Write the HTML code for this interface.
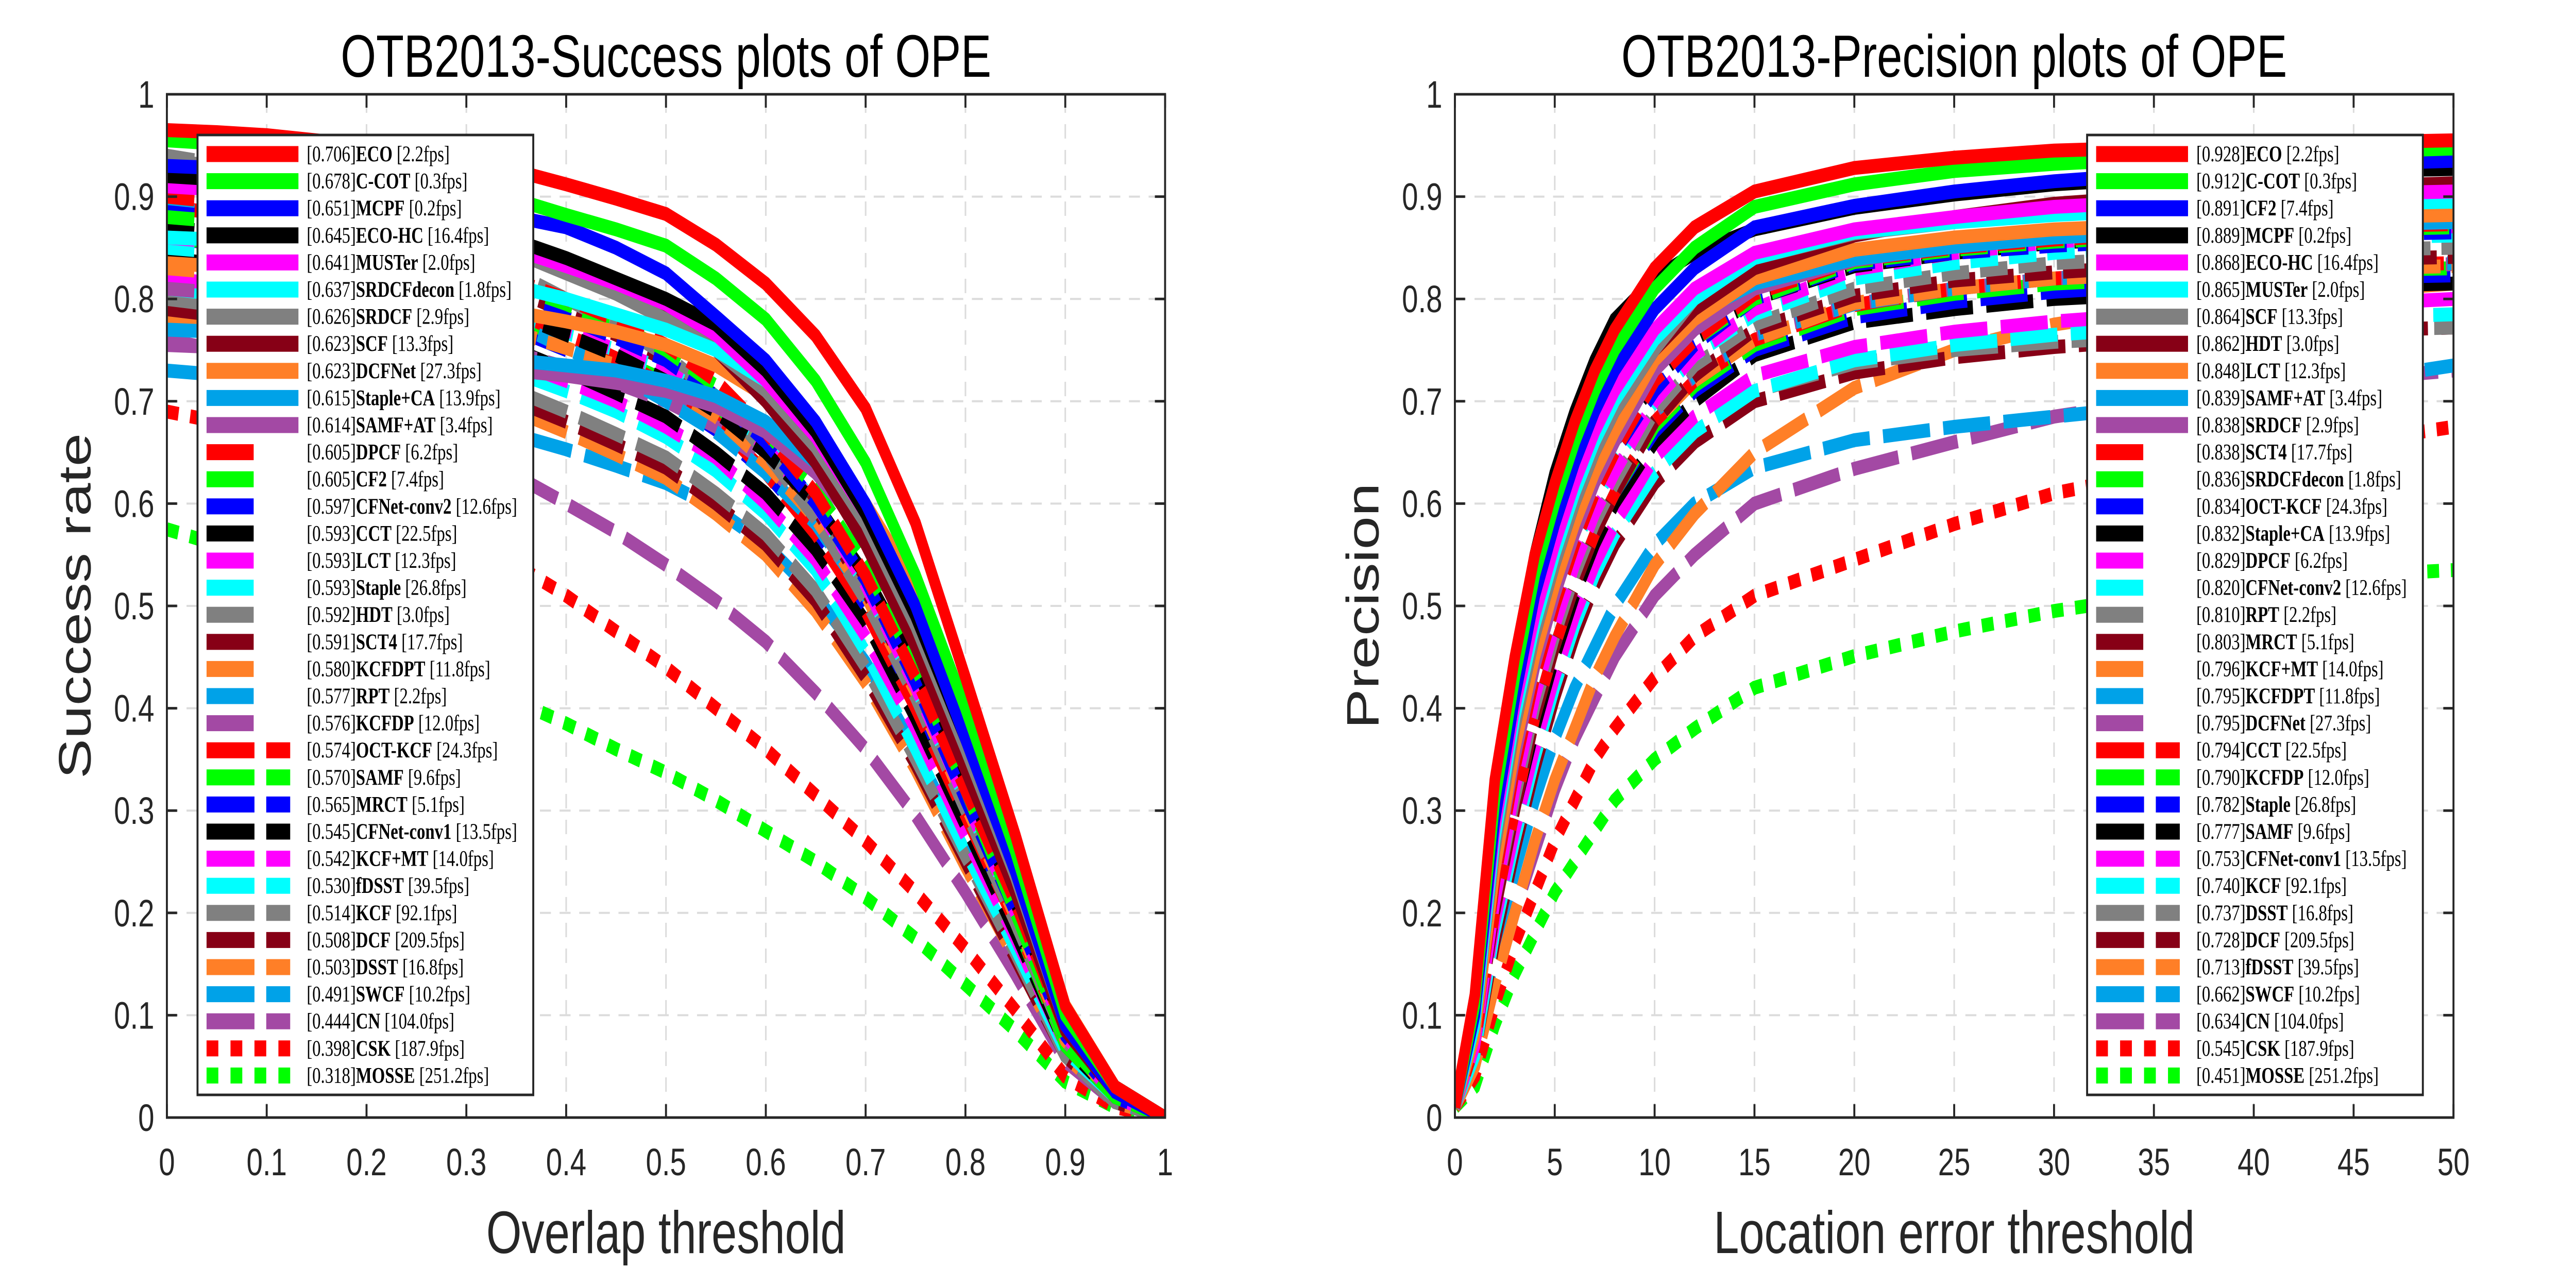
<!DOCTYPE html>
<html><head><meta charset="utf-8"><style>
html,body{margin:0;padding:0;background:#fff;overflow:hidden;width:100%;height:100%;}
svg{display:block;position:fixed;left:0;top:0;width:100vw;height:100vh;}
</style></head><body>
<svg id="chart" xmlns="http://www.w3.org/2000/svg" viewBox="0 0 6560 2461" preserveAspectRatio="none">
<rect x="0" y="0" width="6560" height="2461" fill="#fff"/>
<g id="left"></g><g id="right"></g>
</svg>
<script>
// ---------- data ----------
const successThresholds = [0,0.05,0.1,0.15,0.2,0.25,0.3,0.35,0.4,0.45,0.5,0.55,0.6,0.65,0.7,0.75,0.8,0.85,0.9,0.95,1];
const successXTicks = [0,0.1,0.2,0.3,0.4,0.5,0.6,0.7,0.8,0.9,1];
const successXTickLabels = ["0","0.1","0.2","0.3","0.4","0.5","0.6","0.7","0.8","0.9","1"];
const yTicks = [0,0.1,0.2,0.3,0.4,0.5,0.6,0.7,0.8,0.9,1];
const yTickLabels = ["0","0.1","0.2","0.3","0.4","0.5","0.6","0.7","0.8","0.9","1"];
const successNames = ["ECO","C-COT","MCPF","ECO-HC","MUSTer","SRDCFdecon","SRDCF","SCF","DCFNet","Staple+CA","SAMF+AT","DPCF","CF2","CFNet-conv2","CCT","LCT","Staple","HDT","SCT4","KCFDPT","RPT","KCFDP","OCT-KCF","SAMF","MRCT","CFNet-conv1","KCF+MT","fDSST","KCF","DCF","DSST","SWCF","CN","CSK","MOSSE"];
const successScores = ["0.706","0.678","0.651","0.645","0.641","0.637","0.626","0.623","0.623","0.615","0.614","0.605","0.605","0.597","0.593","0.593","0.593","0.592","0.591","0.580","0.577","0.576","0.574","0.570","0.565","0.545","0.542","0.530","0.514","0.508","0.503","0.491","0.444","0.398","0.318"];
const successFps = ["2.2","0.3","0.2","16.4","2.0","1.8","2.9","13.3","27.3","13.9","3.4","6.2","7.4","12.6","22.5","12.3","26.8","3.0","17.7","11.8","2.2","12.0","24.3","9.6","5.1","13.5","14.0","39.5","92.1","209.5","16.8","10.2","104.0","187.9","251.2"];
const successCurves = [
[.965,.963,.960,.955,.950,.942,.934,.925,.912,.898,.883,.853,.815,.764,.693,.581,.430,.276,.109,.030,0],
[.955,.952,.948,.942,.935,.925,.912,.897,.882,.868,.852,.82,.78,.72,.64,.53,.40,.26,.10,.03,0],
[.93,.928,.925,.92,.912,.90,.89,.88,.87,.85,.825,.783,.74,.68,.60,.50,.37,.24,.09,.025,0],
[.92,.917,.912,.905,.897,.885,.872,.857,.84,.82,.80,.775,.73,.67,.59,.49,.37,.25,.105,.03,0],
[.91,.907,.902,.895,.887,.875,.862,.848,.832,.815,.795,.765,.72,.665,.59,.49,.37,.245,.10,.03,0],
[.86,.858,.855,.85,.843,.835,.825,.812,.80,.785,.77,.75,.72,.67,.60,.50,.38,.25,.10,.03,0],
[.935,.93,.922,.91,.898,.88,.862,.845,.825,.805,.78,.75,.71,.655,.58,.48,.36,.235,.09,.025,0],
[.92,.915,.908,.898,.887,.873,.858,.845,.832,.815,.79,.75,.70,.64,.56,.46,.34,.22,.085,.025,0],
[.835,.832,.828,.822,.815,.807,.797,.787,.778,.768,.755,.735,.705,.665,.60,.52,.40,.27,.11,.03,0],
[.77,.768,.765,.76,.755,.75,.745,.74,.735,.73,.72,.705,.68,.64,.58,.49,.38,.25,.10,.03,0],
[.755,.753,.75,.747,.744,.74,.735,.73,.725,.718,.71,.695,.67,.63,.57,.48,.37,.245,.095,.028,0],
[.90,.895,.887,.877,.865,.85,.835,.818,.80,.78,.755,.72,.67,.61,.53,.43,.32,.21,.085,.025,0],
[.88,.876,.87,.862,.852,.84,.826,.812,.795,.775,.75,.715,.67,.615,.54,.44,.32,.20,.075,.02,0],
[.885,.88,.872,.86,.848,.833,.818,.80,.782,.762,.74,.705,.66,.60,.525,.425,.31,.2,.08,.02,0],
[.87,.865,.857,.845,.832,.818,.802,.785,.765,.745,.72,.69,.65,.60,.53,.44,.33,.21,.085,.025,0],
[.86,.856,.85,.84,.83,.818,.803,.787,.77,.75,.73,.70,.655,.60,.52,.42,.31,.2,.08,.02,0],
[.85,.846,.84,.832,.822,.81,.797,.782,.767,.75,.73,.70,.66,.60,.52,.42,.31,.2,.085,.025,0],
[.94,.932,.92,.905,.888,.868,.847,.825,.80,.775,.745,.705,.65,.585,.505,.41,.30,.19,.075,.02,0],
[.92,.913,.9,.885,.868,.848,.828,.808,.787,.765,.74,.705,.655,.595,.515,.42,.31,.2,.08,.02,0],
[.83,.826,.82,.812,.803,.792,.78,.767,.752,.735,.715,.685,.64,.585,.51,.415,.305,.195,.075,.02,0],
[.89,.882,.87,.855,.838,.818,.797,.775,.752,.728,.70,.67,.63,.58,.51,.42,.31,.20,.08,.02,0],
[.81,.806,.8,.792,.783,.772,.76,.747,.733,.718,.70,.675,.64,.59,.52,.425,.31,.2,.08,.02,0],
[.89,.884,.874,.86,.845,.827,.807,.787,.765,.742,.715,.68,.63,.57,.495,.40,.295,.19,.075,.02,0],
[.86,.855,.848,.838,.826,.812,.797,.78,.762,.742,.72,.69,.65,.60,.53,.43,.31,.19,.07,.02,0],
[.86,.854,.845,.833,.82,.805,.788,.77,.75,.728,.705,.672,.63,.575,.50,.41,.30,.19,.075,.02,0],
[.84,.834,.825,.813,.80,.785,.768,.75,.73,.708,.685,.65,.61,.555,.485,.39,.285,.18,.07,.02,0],
[.82,.815,.807,.797,.785,.771,.755,.738,.72,.70,.675,.645,.60,.545,.47,.38,.275,.175,.07,.02,0],
[.81,.805,.797,.787,.775,.761,.745,.728,.71,.69,.665,.632,.59,.535,.455,.36,.26,.165,.065,.02,0],
[.80,.794,.785,.773,.76,.745,.728,.71,.69,.668,.645,.61,.57,.515,.44,.35,.255,.16,.06,.015,0],
[.79,.784,.775,.763,.75,.735,.718,.70,.68,.658,.635,.60,.56,.505,.43,.345,.25,.155,.06,.015,0],
[.78,.774,.765,.753,.74,.725,.708,.69,.67,.648,.625,.59,.55,.495,.425,.34,.245,.155,.06,.015,0],
[.73,.726,.72,.712,.703,.692,.68,.667,.653,.637,.62,.595,.56,.51,.445,.36,.26,.165,.065,.015,0],
[.76,.75,.737,.72,.70,.678,.653,.627,.60,.572,.54,.505,.465,.415,.36,.295,.22,.14,.055,.015,0],
[.69,.68,.665,.645,.622,.597,.57,.54,.51,.475,.44,.40,.36,.315,.27,.22,.165,.105,.04,.01,0],
[.575,.56,.54,.515,.49,.462,.435,.407,.385,.36,.337,.31,.28,.25,.215,.175,.13,.085,.035,.01,0]
];
const precisionThresholds = [0,1,2,3,4,5,6,7,8,10,12,15,20,25,30,35,40,45,50];
const precisionXTicks = [0,5,10,15,20,25,30,35,40,45,50];
const precisionXTickLabels = ["0","5","10","15","20","25","30","35","40","45","50"];
const precisionNames = ["ECO","C-COT","CF2","MCPF","ECO-HC","MUSTer","SCF","HDT","LCT","SAMF+AT","SRDCF","SCT4","SRDCFdecon","OCT-KCF","Staple+CA","DPCF","CFNet-conv2","RPT","MRCT","KCF+MT","KCFDPT","DCFNet","CCT","KCFDP","Staple","SAMF","CFNet-conv1","KCF","DSST","DCF","fDSST","SWCF","CN","CSK","MOSSE"];
const precisionScores = ["0.928","0.912","0.891","0.889","0.868","0.865","0.864","0.862","0.848","0.839","0.838","0.838","0.836","0.834","0.832","0.829","0.820","0.810","0.803","0.796","0.795","0.795","0.794","0.790","0.782","0.777","0.753","0.740","0.737","0.728","0.713","0.662","0.634","0.545","0.451"];
const precisionFps = ["2.2","0.3","7.4","0.2","16.4","2.0","13.3","3.0","12.3","3.4","2.9","17.7","1.8","24.3","13.9","6.2","12.6","2.2","5.1","14.0","11.8","27.3","22.5","12.0","26.8","9.6","13.5","92.1","16.8","209.5","39.5","10.2","104.0","187.9","251.2"];
const precisionCurves = [
[.01,.12,.33,.45,.55,.62,.68,.73,.77,.83,.87,.905,.928,.938,.945,.948,.951,.953,.955],
[.01,.11,.31,.43,.53,.60,.66,.71,.75,.81,.85,.89,.912,.925,.932,.937,.941,.944,.947],
[.01,.10,.29,.41,.51,.58,.64,.69,.73,.79,.83,.87,.891,.905,.915,.922,.928,.932,.935],
[.01,.11,.31,.44,.55,.63,.69,.74,.78,.82,.845,.868,.889,.902,.912,.918,.922,.925,.927],
[.01,.10,.28,.40,.49,.56,.62,.67,.71,.77,.81,.845,.868,.88,.89,.895,.9,.903,.905],
[.01,.09,.27,.39,.48,.55,.61,.66,.70,.76,.80,.84,.865,.875,.882,.887,.89,.893,.895],
[.01,.09,.26,.38,.47,.54,.60,.65,.69,.75,.80,.84,.864,.875,.883,.888,.892,.894,.896],
[.01,.09,.26,.38,.47,.54,.60,.65,.69,.75,.79,.83,.862,.88,.893,.9,.905,.91,.913],
[.01,.08,.24,.36,.45,.52,.58,.63,.67,.74,.78,.82,.848,.86,.868,.872,.876,.88,.882],
[.01,.09,.26,.38,.47,.54,.60,.65,.69,.75,.785,.815,.839,.851,.86,.865,.87,.873,.875],
[.01,.08,.24,.35,.44,.51,.57,.62,.66,.73,.77,.81,.838,.852,.862,.868,.873,.876,.879],
[.01,.08,.23,.34,.43,.50,.56,.61,.65,.72,.76,.805,.838,.85,.858,.864,.868,.871,.873],
[.01,.08,.23,.34,.43,.50,.56,.61,.65,.72,.76,.80,.836,.848,.856,.861,.865,.868,.87],
[.01,.08,.23,.34,.43,.50,.56,.61,.65,.71,.755,.80,.834,.845,.852,.857,.86,.863,.865],
[.01,.08,.24,.35,.44,.51,.57,.62,.66,.72,.76,.80,.832,.845,.855,.86,.864,.867,.87],
[.01,.07,.21,.32,.41,.48,.54,.59,.63,.70,.745,.79,.829,.845,.856,.862,.866,.869,.871],
[.01,.08,.23,.34,.43,.50,.56,.60,.64,.70,.745,.785,.82,.835,.845,.852,.857,.86,.862],
[.01,.07,.21,.31,.40,.47,.53,.58,.62,.69,.735,.775,.81,.825,.835,.84,.845,.848,.85],
[.01,.07,.20,.30,.39,.46,.52,.57,.61,.68,.725,.77,.803,.818,.826,.832,.836,.839,.841],
[.01,.07,.20,.30,.39,.46,.52,.57,.61,.68,.72,.76,.796,.81,.82,.825,.828,.83,.832],
[.01,.07,.21,.31,.40,.47,.53,.58,.62,.69,.725,.765,.795,.81,.82,.826,.83,.833,.835],
[.01,.07,.21,.32,.41,.48,.54,.59,.63,.69,.725,.765,.795,.81,.82,.825,.83,.832,.834],
[.01,.07,.20,.30,.39,.46,.52,.57,.61,.68,.72,.76,.794,.81,.82,.826,.83,.833,.835],
[.01,.07,.20,.30,.39,.46,.52,.57,.61,.675,.715,.755,.79,.805,.815,.82,.825,.828,.83],
[.01,.07,.20,.30,.39,.46,.52,.57,.61,.67,.71,.75,.782,.797,.807,.813,.818,.821,.823],
[.01,.07,.20,.30,.38,.45,.51,.56,.60,.66,.70,.745,.777,.79,.8,.805,.81,.813,.815],
[.01,.07,.19,.28,.36,.43,.49,.54,.58,.645,.685,.725,.753,.768,.778,.785,.79,.795,.8],
[.01,.06,.18,.27,.35,.42,.48,.53,.57,.63,.67,.71,.74,.755,.765,.772,.778,.782,.785],
[.01,.06,.18,.27,.35,.42,.48,.53,.57,.63,.67,.71,.737,.75,.758,.763,.767,.77,.772],
[.01,.06,.17,.26,.34,.41,.47,.52,.56,.62,.66,.70,.728,.743,.753,.76,.765,.769,.772],
[.01,.05,.13,.20,.27,.33,.38,.43,.47,.54,.59,.65,.713,.75,.775,.79,.8,.808,.815],
[.01,.06,.16,.24,.31,.37,.42,.46,.50,.56,.60,.635,.662,.675,.685,.695,.705,.72,.735],
[.01,.05,.13,.20,.26,.32,.37,.41,.45,.51,.55,.60,.634,.66,.685,.7,.712,.722,.73],
[.01,.04,.11,.17,.22,.27,.31,.35,.38,.43,.47,.51,.545,.58,.61,.63,.645,.66,.675],
[.01,.03,.09,.14,.18,.22,.25,.28,.31,.35,.38,.42,.451,.475,.495,.51,.52,.53,.535]
];

// ---------- styling ----------
const COLORS = ["#ff0000","#00ff00","#0000ff","#000000","#ff00ff","#00ffff","#808080","#870016","#ff7f27","#00a2e8","#a349a4"];
const DASHES = ["", "70 28", "120 34", "30 30"];
const NS = "http://www.w3.org/2000/svg";
function mk(tag, attrs, parent){ const e=document.createElementNS(NS,tag); for(const k in attrs) e.setAttribute(k,attrs[k]); if(parent) parent.appendChild(e); return e; }

function drawPanel(g, cfg){
  const {x0,x1,y0,y1,xmin,xmax,prefix} = cfg;
  const sx = v => x0 + (v-xmin)/(xmax-xmin)*(x1-x0);
  const sy = v => y0 - v*(y0-y1);
  const grid = mk("g",{},g);
  
  
  cfg.xTicks.forEach(t=>{ if(t>xmin&&t<xmax){ mk("line",{x1:sx(t),x2:sx(t),y1:y0,y2:y1,stroke:"#dcdcdc","stroke-width":4,"stroke-dasharray":"28 22"},grid);} });
  yTicks.forEach(t=>{ if(t>0&&t<1){ mk("line",{x1:x0,x2:x1,y1:sy(t),y2:sy(t),stroke:"#dcdcdc","stroke-width":4,"stroke-dasharray":"28 22"},grid);} });
  const cid = prefix+"-clip";
  const defs = mk("defs",{},g);
  const cp = mk("clipPath",{id:cid},defs);
  mk("rect",{x:x0,y:y1,width:x1-x0,height:y0-y1},cp);
  const lines = mk("g",{"clip-path":"url(#"+cid+")"},g);
  
  
  for(let i=cfg.curves.length-1;i>=0;i--){
    const c = cfg.curves[i];
    const pts = c.map((v,j)=>sx(cfg.thresholds[j]).toFixed(1)+","+sy(v).toFixed(1)).join(" ");
    const style = Math.floor(i/11);
    const pl = mk("polyline",{points:pts,fill:"none",stroke:COLORS[i%11],"stroke-width":27,"stroke-linejoin":"miter","stroke-linecap":"butt"},lines);
    if(DASHES[style]) pl.setAttribute("stroke-dasharray",DASHES[style]);
    
    
  }
  const ax = mk("g",{},g);
  
  
  mk("rect",{x:x0,y:y1,width:x1-x0,height:y0-y1,fill:"none",stroke:"#262626","stroke-width":5},ax);
  cfg.xTicks.forEach((t,k)=>{
    const X=sx(t);
    mk("line",{x1:X,x2:X,y1:y0,y2:y0-26,stroke:"#262626","stroke-width":5},ax);
    mk("line",{x1:X,x2:X,y1:y1,y2:y1+26,stroke:"#262626","stroke-width":5},ax);
    const tx = mk("text",{x:X,y:2281,"text-anchor":"middle","font-size":74,fill:"#262626","font-family":"Liberation Sans, sans-serif"},ax);
    tx.textContent = cfg.xTickLabels[k];
    
    
  });
  yTicks.forEach((t,k)=>{
    const Y=sy(t);
    mk("line",{x1:x0,x2:x0+26,y1:Y,y2:Y,stroke:"#262626","stroke-width":5},ax);
    mk("line",{x1:x1,x2:x1-26,y1:Y,y2:Y,stroke:"#262626","stroke-width":5},ax);
    const ty = mk("text",{x:x0-32,y:Y+26,"text-anchor":"end","font-size":74,fill:"#262626","font-family":"Liberation Sans, sans-serif"},ax);
    ty.textContent = yTickLabels[k];
    
    
  });
  const cx=(x0+x1)/2;
  const title = mk("text",{x:cx,y:149,"text-anchor":"middle","font-size":116,fill:"#000","font-family":"Liberation Sans, sans-serif"},g);
  title.textContent = cfg.title;
  
  
  const xl = mk("text",{x:cx,y:2432,"text-anchor":"middle","font-size":116,fill:"#262626","font-family":"Liberation Sans, sans-serif"},g);
  xl.textContent = cfg.xLabel;
  
  
  const ylx = x0-195, yly=(y0+y1)/2;
  const yl = mk("text",{x:ylx,y:yly,"text-anchor":"middle","font-size":116,fill:"#262626","font-family":"Liberation Sans, sans-serif",transform:"rotate(-90 "+ylx+" "+yly+")"},g);
  yl.textContent = cfg.yLabel;
  
  
  const lg = mk("g",{},g);
  
  
  const L=cfg.legend;
  mk("rect",{x:L.x,y:262,width:L.w,height:1863,fill:"#fff",stroke:"#262626","stroke-width":5},lg);
  for(let i=0;i<cfg.names.length;i++){
    const cy = 299 + i*52.6;
    const style = Math.floor(i/11);
    const row = mk("g",{},lg);
    
    
    const sx0=L.x+23, sx1=L.x+257;
    let segs;
    if(style===0) segs=[[sx0,sx1]];
    else if(style===1) segs=[[sx0,sx0+120]];
    else if(style===2) segs=[[sx0,sx0+122],[sx0+152,sx0+213]];
    else segs=[[sx0,sx0+30],[sx0+61,sx0+91],[sx0+122,sx0+152],[sx0+183,sx0+213]];
    segs.forEach(s=>mk("rect",{x:s[0],y:cy-15.5,width:s[1]-s[0],height:31,fill:COLORS[i%11]},row));
    const t = mk("text",{x:L.x+278,y:cy+14,"font-size":43,fill:"#000","font-family":"Liberation Serif, serif"},row);
    const a = mk("tspan",{},t); a.textContent="["+cfg.scores[i]+"]";
    const b = mk("tspan",{"font-weight":"bold"},t); b.textContent=cfg.names[i];
    const c = mk("tspan",{},t); c.textContent=" ["+cfg.fps[i]+"fps]";
  }
}

drawPanel(document.getElementById("left"),{
  prefix:"success",x0:425,x1:2967,y0:2169,y1:183,xmin:0,xmax:1,
  thresholds:successThresholds,curves:successCurves,names:successNames,scores:successScores,fps:successFps,
  xTicks:successXTicks,xTickLabels:successXTickLabels,
  title:"OTB2013-Success plots of OPE",xLabel:"Overlap threshold",yLabel:"Success rate",
  legend:{x:503,w:855}
});
drawPanel(document.getElementById("right"),{
  prefix:"precision",x0:3705,x1:6248,y0:2169,y1:183,xmin:0,xmax:50,
  thresholds:precisionThresholds,curves:precisionCurves,names:precisionNames,scores:precisionScores,fps:precisionFps,
  xTicks:precisionXTicks,xTickLabels:precisionXTickLabels,
  title:"OTB2013-Precision plots of OPE",xLabel:"Location error threshold",yLabel:"Precision",
  legend:{x:5315,w:855}
});
</script>
</body></html>
